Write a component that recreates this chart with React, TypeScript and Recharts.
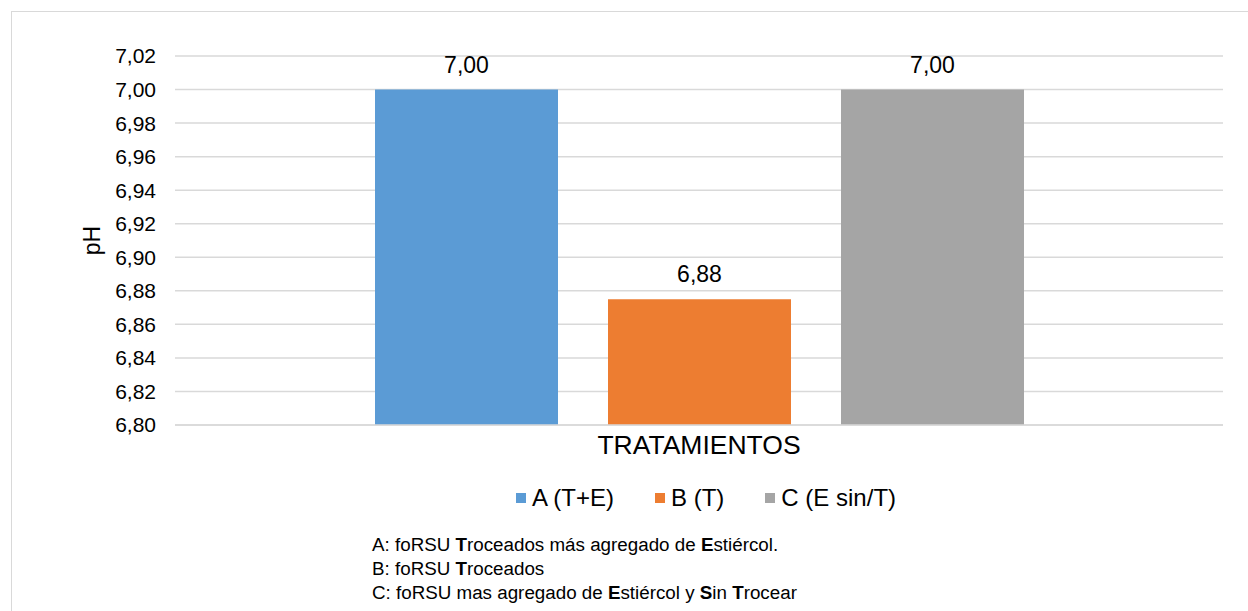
import { BarChart, Bar, XAxis, YAxis, CartesianGrid, Legend, LabelList } from 'recharts';

const categories = ['TRATAMIENTOS'];
const seriesNames = ['A (T+E)', 'B (T)', 'C (E sin/T)'];
const seriesValues = [7.0, 6.875, 7.0];
const seriesColors = ['#5B9BD5', '#ED7D31', '#A5A5A5'];
const yTicks = [6.8, 6.82, 6.84, 6.86, 6.88, 6.9, 6.92, 6.94, 6.96, 6.98, 7.0, 7.02];

const FONT = 'Arial, "Liberation Sans", sans-serif';
const fmt = (v: number) => Number(v).toFixed(2).replace('.', ',');

const data = categories.map((name) => {
    const row: Record<string, string | number> = { name };
    seriesNames.forEach((s, i) => {
        row[s] = seriesValues[i];
    });
    return row;
});

function LegendContent() {
    return (
        <div style={{ display: 'flex', justifyContent: 'flex-start', paddingLeft: 516, fontFamily: FONT, fontSize: 24, color: '#000' }}>
            {seriesNames.map((s, i) => (
                <div key={s} style={{ display: 'flex', alignItems: 'center', marginRight: i < seriesNames.length - 1 ? 41 : 0 }}>
                    <span style={{ display: 'inline-block', width: 10, height: 10, background: seriesColors[i], marginRight: 6 }} />
                    <span>{s}</span>
                </div>
            ))}
        </div>
    );
}

export default function App() {
    return (
        <div style={{ position: 'absolute', left: 0, top: 0, width: 1248, height: 611, overflow: 'hidden', background: '#fff' }}>
            {/* outer chart frame */}
            <div style={{ position: 'absolute', left: 11, top: 11, width: 1260, height: 640, border: '1px solid #d9d9d9' }} />

            <BarChart
                width={1248}
                height={611}
                data={data}
                margin={{ top: 56, right: 25, left: 75, bottom: 146 }}
                barSize={183}
                barGap={50}
                style={{ position: 'absolute', left: 0, top: 0 }}
            >
                <CartesianGrid stroke="#d9d9d9" strokeWidth={1.5} vertical={false} />
                <XAxis
                    dataKey="name"
                    height={40}
                    axisLine={{ stroke: '#d9d9d9', strokeWidth: 1.5 }}
                    tickLine={false}
                    tickMargin={4}
                    tick={{ fill: '#000', fontSize: 26.5, fontFamily: FONT }}
                />
                <YAxis
                    width={100}
                    domain={[6.8, 7.02]}
                    ticks={yTicks}
                    interval={0}
                    tickFormatter={fmt}
                    axisLine={false}
                    tickLine={false}
                    tickSize={0}
                    tickMargin={19}
                    tick={{ fill: '#000', fontSize: 21, fontFamily: FONT }}
                    label={{
                        content: (props: any) => {
                            const vb = props.viewBox || {};
                            const cx = vb.x + 17;
                            const cy = vb.y + vb.height / 2;
                            return (
                                <text
                                    x={cx}
                                    y={cy}
                                    transform={`rotate(-90, ${cx}, ${cy})`}
                                    textAnchor="middle"
                                    dominantBaseline="central"
                                    fontSize={23}
                                    fontFamily={FONT}
                                    fill="#000"
                                >
                                    pH
                                </text>
                            );
                        },
                    }}
                />
                <Legend
                    verticalAlign="middle"
                    layout="horizontal"
                    content={<LegendContent />}
                    wrapperStyle={{ position: 'absolute', top: 484, left: 0, width: 1248 }}
                />
                {seriesNames.map((s, i) => (
                    <Bar key={s} dataKey={s} fill={seriesColors[i]} isAnimationActive={false}>
                        <LabelList
                            dataKey={s}
                            position="top"
                            offset={17}
                            formatter={(v: any) => fmt(v)}
                            style={{ fill: '#000', fontSize: 23, fontFamily: FONT }}
                        />
                    </Bar>
                ))}
            </BarChart>

            {/* treatment notes under the legend */}
            <div style={{ position: 'absolute', left: 372, top: 533, fontFamily: FONT, fontSize: 18.8, lineHeight: '24px', color: '#000' }}>
                <div>A: foRSU <b>T</b>roceados más agregado de <b>E</b>stiércol.</div>
                <div>B: foRSU <b>T</b>roceados</div>
                <div>C: foRSU mas agregado de <b>E</b>stiércol y <b>S</b>in <b>T</b>rocear</div>
            </div>
        </div>
    );
}
